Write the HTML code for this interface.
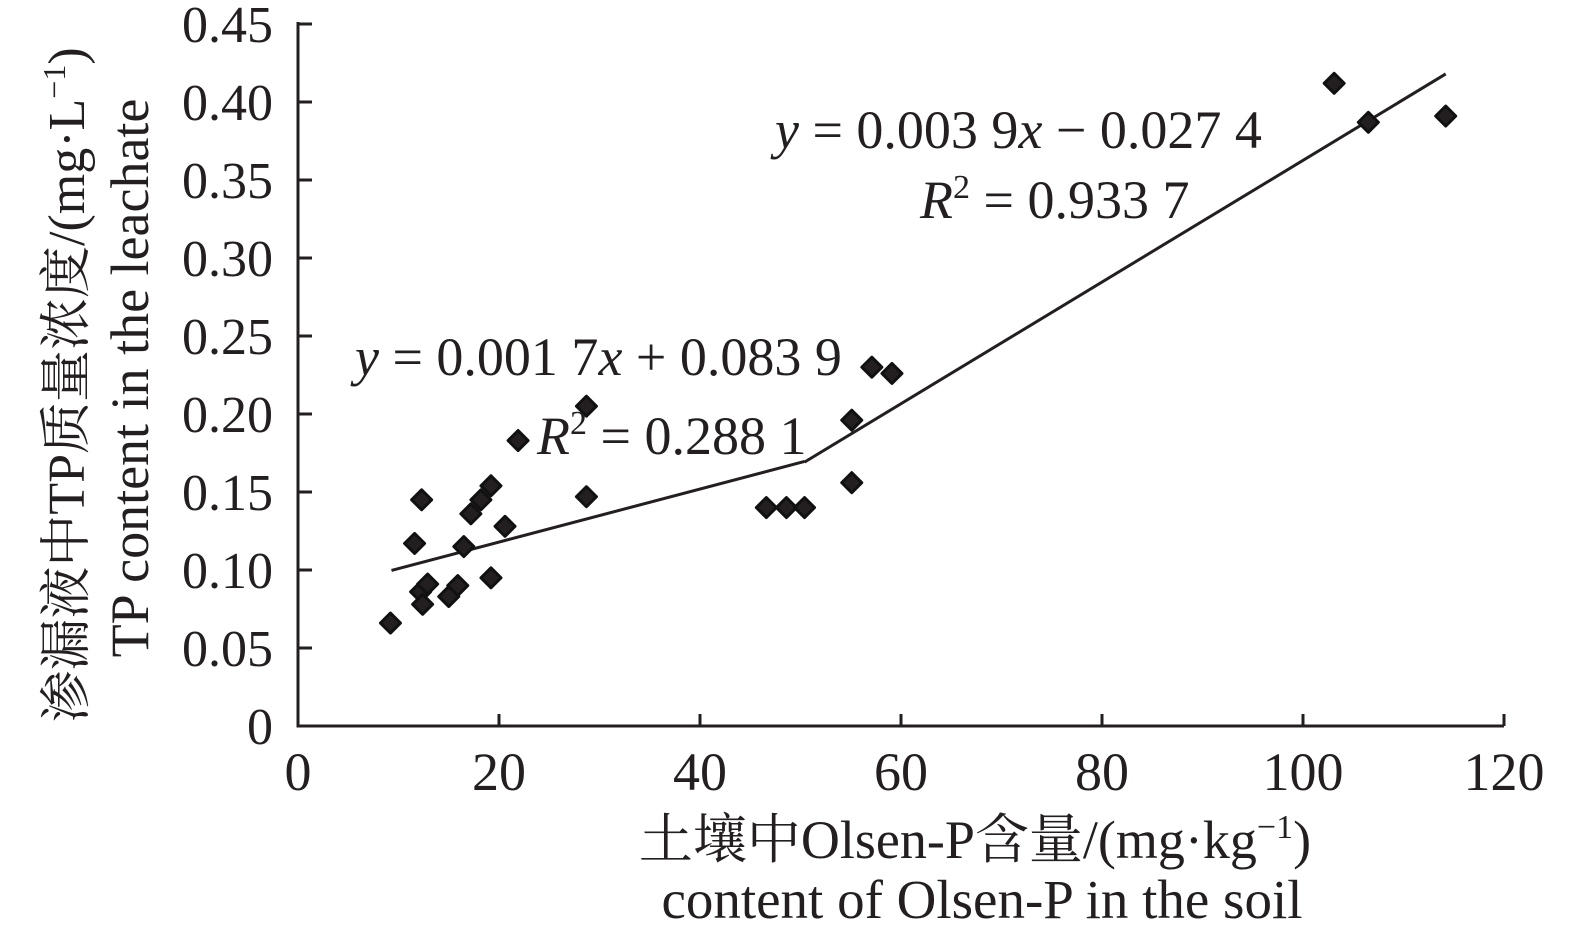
<!DOCTYPE html>
<html><head><meta charset="utf-8"><style>
body{margin:0;background:#fff;}
svg text{font-family:"Liberation Serif","Noto Serif CJK SC",serif;fill:#231f20;}
</style></head><body>
<svg width="1575" height="941" viewBox="0 0 1575 941" xmlns="http://www.w3.org/2000/svg">
<g id="axes"></g>
<g id="marks"></g>
<text x="355" y="375" font-size="54"><tspan font-style="italic">y</tspan> = 0.001 7<tspan font-style="italic">x</tspan> + 0.083 9</text>
<text x="537" y="454" font-size="54"><tspan font-style="italic">R</tspan><tspan font-size="34" dy="-20">2</tspan><tspan dy="20"> = 0.288 1</tspan></text>
<text x="775" y="148" font-size="54"><tspan font-style="italic">y</tspan> = 0.003 9<tspan font-style="italic">x</tspan> − 0.027 4</text>
<text x="920" y="218" font-size="54"><tspan font-style="italic">R</tspan><tspan font-size="34" dy="-20">2</tspan><tspan dy="20"> = 0.933 7</tspan></text>
<text x="975" y="858" font-size="54" text-anchor="middle">土壤中Olsen-P含量/(mg·kg<tspan font-size="34" dy="-20">−1</tspan><tspan dy="20">)</tspan></text>
<text x="982" y="918" font-size="55" text-anchor="middle">content of  Olsen-P in the soil</text>
<text transform="translate(84,385) rotate(-90)" font-size="52" text-anchor="middle">渗漏液中TP质量浓度/(mg·L<tspan font-size="32" dy="-19">−1</tspan><tspan dy="19">)</tspan></text>
<text transform="translate(148,378) rotate(-90)" font-size="54" text-anchor="middle">TP content in the leachate</text>
</svg>
<script>
const xTicks=[0,20,40,60,80,100,120];
const yTicks=[0,0.05,0.10,0.15,0.20,0.25,0.30,0.35,0.40,0.45];
const yTickLabels=["0","0.05","0.10","0.15","0.20","0.25","0.30","0.35","0.40","0.45"];
const xs=[9.2,11.6,12.3,12.2,12.4,12.9,15.0,15.9,16.5,17.2,18.2,19.2,19.2,20.6,21.9,28.7,28.7,46.6,48.6,50.4,55.1,55.1,57.1,59.1,103.1,106.5,114.2];
const ys=[0.066,0.117,0.145,0.086,0.078,0.091,0.083,0.090,0.115,0.136,0.145,0.154,0.095,0.128,0.183,0.205,0.147,0.140,0.140,0.140,0.196,0.156,0.230,0.226,0.412,0.387,0.391];
const fit1=[0.0017,0.0839], fit1Range=[9.3,50.4];
const fit2=[0.0039,-0.0274], fit2Range=[50.4,114.2];
const X=v=>298+v*(1504-298)/120;
const Y=v=>726-v*(726-24)/0.45;
const NS="http://www.w3.org/2000/svg";
const axes=document.getElementById('axes'),marks=document.getElementById('marks');
function mk(t,a,p){const e=document.createElementNS(NS,t);for(const k in a)e.setAttribute(k,a[k]);p.appendChild(e);return e;}
let e=mk('path',{d:`M${X(0)},${Y(0.45)-2}V${Y(0)}H${X(120)}`,stroke:'#231f20','stroke-width':3,fill:'none'},axes);


xTicks.forEach(v=>{
 let t=mk('line',{x1:X(v),x2:X(v),y1:Y(0),y2:Y(0)-12,stroke:'#231f20','stroke-width':3},axes);
 
 
 let l=mk('text',{x:X(v),y:790,'font-size':54,'text-anchor':'middle'},axes);l.textContent=v;
 
 
});
yTicks.forEach((v,i)=>{
 let t=mk('line',{x1:X(0),x2:X(0)+14,y1:Y(v),y2:Y(v),stroke:'#231f20','stroke-width':3},axes);
 
 
 let l=mk('text',{x:273,y:Y(v)+18,'font-size':52,'text-anchor':'end'},axes);l.textContent=yTickLabels[i];
 
 
});
[[fit1,fit1Range],[fit2,fit2Range]].forEach(([f,r],i)=>{
 let l=mk('line',{x1:X(r[0]),y1:Y(f[0]*r[0]+f[1]),x2:X(r[1]),y2:Y(f[0]*r[1]+f[1]),stroke:'#231f20','stroke-width':3},marks);
 
 
});
xs.forEach((x,i)=>{
 const cx=X(x),cy=Y(ys[i]),s=10;
 let p=mk('path',{d:`M${cx},${cy-s}L${cx+s},${cy}L${cx},${cy+s}L${cx-s},${cy}Z`,fill:'#231f20',stroke:'#111','stroke-width':3,'stroke-linejoin':'round'},marks);
 
 
});
</script>
</body></html>
